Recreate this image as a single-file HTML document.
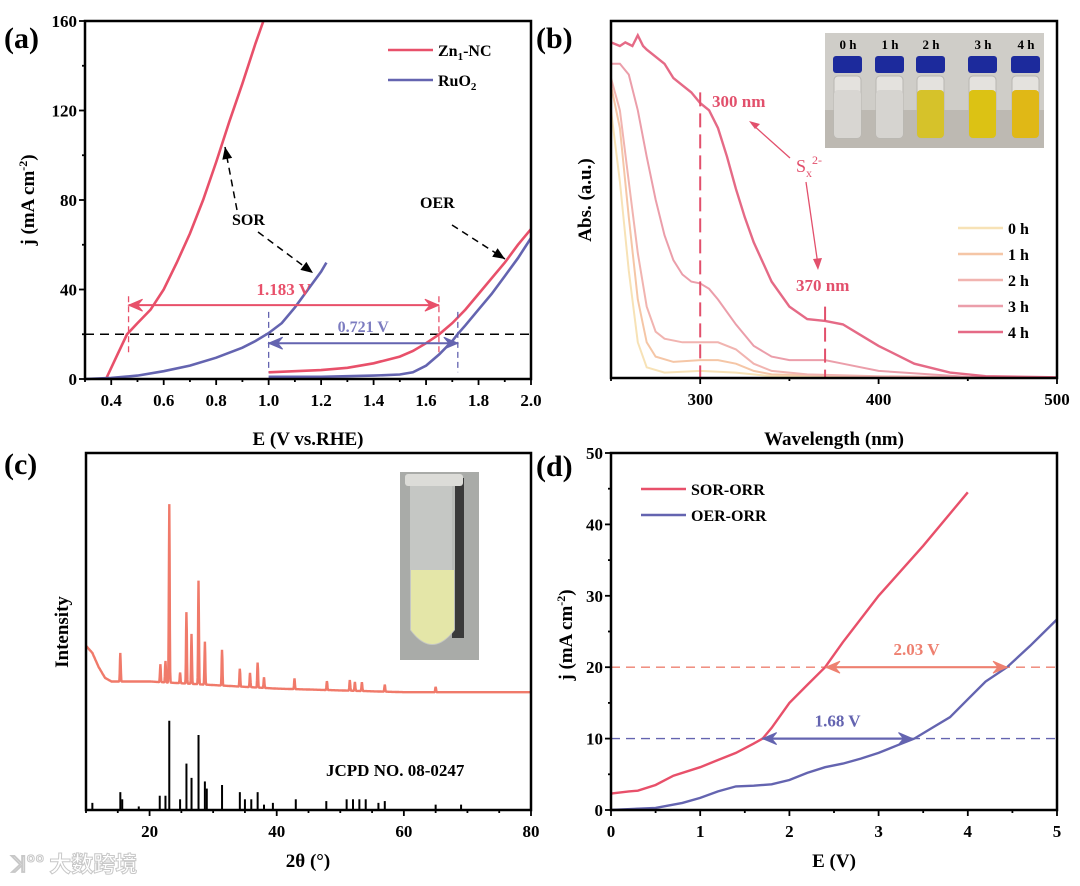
<!DOCTYPE html>
<html><head><meta charset="utf-8">
<style>
html,body{margin:0;padding:0;background:#fff;}
svg{display:block;font-family:"Liberation Serif","Noto Serif CJK SC",serif;font-weight:bold;}
</style></head>
<body>
<svg id="fig" width="1080" height="886" viewBox="0 0 1080 886" xmlns="http://www.w3.org/2000/svg"></svg>
<script>
// ---------- DATA ----------
// Panel (a)
const aSorZnX=[0.38,0.42,0.46,0.5,0.55,0.6,0.65,0.7,0.75,0.8,0.85,0.9,0.95,0.98];
const aSorZnY=[0,10,20,25,31,40,52,65,80,97,115,132,150,160];
const aSorRuX=[0.3,0.4,0.5,0.6,0.7,0.8,0.9,0.95,1.0,1.05,1.1,1.15,1.2,1.22];
const aSorRuY=[0,0.5,1.5,3.5,6,9.5,14,17,20.5,25,32,40,48,52];
const aOerZnX=[1.0,1.1,1.2,1.3,1.4,1.5,1.55,1.6,1.65,1.7,1.75,1.8,1.85,1.9,1.95,2.0];
const aOerZnY=[3,3.5,4,5,7,10,12.5,16,20,25,31,38,45,52,60,67];
const aOerRuX=[1.0,1.2,1.4,1.5,1.55,1.6,1.65,1.7,1.72,1.75,1.8,1.85,1.9,1.95,2.0];
const aOerRuY=[1,1,1.5,2,3,6,11,17,20,24,31,38,46,54,63];
const aXTicks=[0.4,0.6,0.8,1.0,1.2,1.4,1.6,1.8,2.0];
const aYTicks=[0,40,80,120,160];
const aRefJ=20;
const aGap1=[0.466,1.649]; const aGap1J=33; const aGap1Label="1.183 V";
const aGap2=[1.0,1.721]; const aGap2J=16; const aGap2Label="0.721 V";
// Panel (b)
const bLabels=["0 h","1 h","2 h","3 h","4 h"];
const bColors=["#f7e2b6","#f5c6a6","#f1b4b0","#eb9eaa","#e56a86"];
const b0X=[250,255,260,265,270,280,300,320,340,500];
const b0Y=[75,55,30,10,3,1.5,2,1.5,0.5,0];
const b1X=[250,255,260,265,270,275,285,300,310,320,330,340,400,500];
const b1Y=[82,70,45,22,10,6,4.5,5,5,4,2,1,0.3,0];
const b2X=[250,255,260,265,270,275,280,290,300,310,320,330,340,360,400,500];
const b2Y=[84,75,55,35,20,13,11,10,10,10,8,4,2,1,0.5,0];
const b3X=[250,255,260,265,270,275,280,285,290,295,300,305,310,320,330,340,350,370,380,400,450,500];
const b3Y=[88,88,85,75,62,50,40,33,29,27,26.5,25,22,15,9,6,5,5,4,2,0.3,0];
const b4X=[250,255,258,262,265,268,270,275,280,285,290,295,300,305,310,315,320,325,330,340,350,360,370,380,390,400,420,440,460,500];
const b4Y=[94,93,94,93,96,93,92,90,88,84,82,80,77,75,70,62,53,45,38,27,20,16.5,16,15,12,9,4,1.5,0.5,0.2];
const bXTicks=[300,400,500];
const bMark1=300, bMark2=370;
// Panel (c)
const cBaseX=[10,11,12,13,14,20,30,40,60,80];
const cBaseY=[46,44,40,37,36,36,35,34,33,33];
const cPeakPos=[15.4,21.7,22.5,23.1,24.8,25.8,26.6,27.7,28.7,31.4,34.2,35.8,37.0,38.0,42.8,47.9,51.5,52.3,53.4,57.0,65.0];
const cPeakH=[8,5,6,50,3,20,14,29,12,10,5,4,7,3,3,2.5,3,2.5,2.5,2,1.5];
const cStickPos=[11,15.4,15.7,18.3,21.6,22.5,23.1,24.8,25.8,26.6,27.7,28.7,29,31.4,34.2,35,36,37,38,39.4,43,47.8,51,52,53,54,56,57,65,69];
const cStickH=[2,5,3,1,4,4,25,3,13,9,21,8,6,7,5,3,3,5,1.5,2,3,2.5,3,3,3,3,2,2.5,1.5,1.5];
const cXTicks=[20,40,60,80];
// Panel (d)
const dSorX=[0,0.2,0.3,0.5,0.7,1.0,1.2,1.4,1.6,1.7,1.8,2.0,2.2,2.4,2.6,3.0,3.5,4.0];
const dSorY=[2.3,2.6,2.7,3.5,4.8,6,7,8,9.3,10,11.5,15,17.5,20,23.5,30,37,44.5];
const dOerX=[0,0.5,0.8,1.0,1.2,1.4,1.6,1.8,2.0,2.2,2.4,2.6,2.8,3.0,3.2,3.4,3.6,3.8,4.0,4.2,4.44,4.7,5.0];
const dOerY=[0,0.3,1,1.7,2.6,3.3,3.4,3.6,4.2,5.2,6,6.5,7.2,8,9,10,11.5,13,15.5,18,20,23,26.7];
const dXTicks=[0,1,2,3,4,5];
const dYTicks=[0,10,20,30,40,50];
const dGap1=[2.41,4.44]; const dGap1J=20; const dGap1Label="2.03 V";
const dGap2=[1.70,3.38]; const dGap2J=10; const dGap2Label="1.68 V";

// ---------- HELPERS ----------
const NS="http://www.w3.org/2000/svg";
const svg=document.getElementById('fig');
function el(tag,attrs,parent,text){const e=document.createElementNS(NS,tag);for(const k in attrs)e.setAttribute(k,attrs[k]);if(text!==undefined)e.textContent=text;(parent||svg).appendChild(e);return e;}
function scale(d0,d1,r0,r1){return v=>r0+(v-d0)*(r1-r0)/(d1-d0);}
function pathFrom(xs,ys,sx,sy){return xs.map((x,i)=>(i?'L':'M')+sx(x).toFixed(1)+','+sy(ys[i]).toFixed(1)).join(' ');}
function arrowHead(g,x,y,dir,color){ // dir: 1 points right, -1 left
  const p=`M${x},${y} L${x-dir*14},${y-6} L${x-dir*9},${y} L${x-dir*14},${y+6} Z`;
  const a=el('path',{d:p,fill:color,stroke:color,'stroke-width':1},g);
  
  
}
function frame(g,L,T,R,B){const r=el('rect',{x:L,y:T,width:R-L,height:B-T,fill:'none',stroke:'#000','stroke-width':2.5},g);}

// ================= PANEL A =================
(function(){
  const L=85,R=531,T=21,B=379;
  const sx=scale(0.3,2.0,L,R), sy=scale(0,160,B,T);
  const g=el('g',{});  
  // ref line
  const rl=el('line',{x1:L,x2:R,y1:sy(aRefJ),y2:sy(aRefJ),stroke:'#000','stroke-width':1.5,'stroke-dasharray':'9,6'},g);
  
  const red='#e8506a', blue='#6464b0';
  [[aSorZnX,aSorZnY,red,'zn1nc-sor-curve'],[aSorRuX,aSorRuY,blue,'ruo2-sor-curve'],[aOerZnX,aOerZnY,red,'zn1nc-oer-curve'],[aOerRuX,aOerRuY,blue,'ruo2-oer-curve']].forEach(s=>{
    const p=el('path',{d:pathFrom(s[0],s[1],sx,sy),fill:'none',stroke:s[2],'stroke-width':2.6},g);
    
  });
  // gap 1
  aGap1.forEach(v=>{const l=el('line',{x1:sx(v),x2:sx(v),y1:sy(aGap1J+4),y2:sy(aGap1J-22),stroke:red,'stroke-width':1.3,'stroke-dasharray':'6,4'},g);});
  const l1=el('line',{x1:sx(aGap1[0]),x2:sx(aGap1[1]),y1:sy(aGap1J),y2:sy(aGap1J),stroke:red,'stroke-width':2},g);
  arrowHead(g,sx(aGap1[0]),sy(aGap1J),-1,red);arrowHead(g,sx(aGap1[1]),sy(aGap1J),1,red);
  const t1=el('text',{x:(sx(aGap1[0])+sx(aGap1[1]))/2,y:sy(aGap1J)-10,'text-anchor':'middle','font-size':17,fill:red},g,aGap1Label);
  aGap2.forEach(v=>{const l=el('line',{x1:sx(v),x2:sx(v),y1:sy(30),y2:sy(3),stroke:blue,'stroke-width':1.3,'stroke-dasharray':'6,4'},g);});
  const l2=el('line',{x1:sx(aGap2[0]),x2:sx(aGap2[1]),y1:sy(aGap2J),y2:sy(aGap2J),stroke:blue,'stroke-width':2},g);
  arrowHead(g,sx(aGap2[0]),sy(aGap2J),-1,blue);arrowHead(g,sx(aGap2[1]),sy(aGap2J),1,blue);
  const t2=el('text',{x:(sx(aGap2[0])+sx(aGap2[1]))/2,y:sy(aGap2J)-11,'text-anchor':'middle','font-size':16,fill:'#7c7cc0'},g,aGap2Label);
  // annotations
  const s1=el('text',{x:232,y:225,'font-size':16},g,'SOR');
  const o1=el('text',{x:420,y:208,'font-size':16},g,'OER');
  [[237,210,225,147],[258,232,313,273],[452,225,505,259]].forEach(c=>{
    const l=el('line',{x1:c[0],y1:c[1],x2:c[2],y2:c[3],stroke:'#000','stroke-width':1.5,'stroke-dasharray':'7,5'},g);
    const ang=Math.atan2(c[3]-c[1],c[2]-c[0]);const hx=c[2],hy=c[3];
    const p=`M${hx},${hy} L${hx-12*Math.cos(ang)+5*Math.sin(ang)},${hy-12*Math.sin(ang)-5*Math.cos(ang)} L${hx-12*Math.cos(ang)-5*Math.sin(ang)},${hy-12*Math.sin(ang)+5*Math.cos(ang)} Z`;
    const h=el('path',{d:p,fill:'#000'},g);
  });
  frame(g,L,T,R,B);
  // ticks
  for(let v=0.3;v<=2.001;v+=0.1){const major=aXTicks.some(t=>Math.abs(t-v)<1e-6);const x=sx(v);const tk=el('line',{x1:x,x2:x,y1:B,y2:B+(major?6:3),stroke:'#000','stroke-width':1.8},g);}
  aXTicks.forEach(v=>{const t=el('text',{x:sx(v),y:B+27,'text-anchor':'middle','font-size':17},g,v.toFixed(1));});
  for(let v=0;v<=160;v+=20){const major=aYTicks.includes(v);const y=sy(v);const tk=el('line',{x1:L,x2:L-(major?6:3),y1:y,y2:y,stroke:'#000','stroke-width':1.8},g);}
  aYTicks.forEach(v=>{const t=el('text',{x:L-8,y:sy(v)+6,'text-anchor':'end','font-size':17},g,String(v));});
  const xt=el('text',{x:308,y:445,'text-anchor':'middle','font-size':19},g,'E (V vs.RHE)');
  const yt=el('text',{transform:'translate(34,200) rotate(-90)','text-anchor':'middle','font-size':19},g);
  el('tspan',{},yt,'j (mA cm');el('tspan',{dy:-7,'font-size':12},yt,'-2');el('tspan',{dy:7},yt,')');
  // legend
  const lg=el('g',{},g);
  const e1=el('line',{x1:388,x2:433,y1:50,y2:50,stroke:red,'stroke-width':2.6},lg);
  const lt1=el('text',{x:438,y:56,'font-size':16},lg);
  el('tspan',{},lt1,'Zn');el('tspan',{dy:4,'font-size':11},lt1,'1');el('tspan',{dy:-4},lt1,'-NC');
  const e2=el('line',{x1:388,x2:433,y1:80,y2:80,stroke:blue,'stroke-width':2.6},lg);
  const lt2=el('text',{x:438,y:86,'font-size':16},lg);
  el('tspan',{},lt2,'RuO');el('tspan',{dy:4,'font-size':11},lt2,'2');
  const pl=el('text',{x:4,y:48,'font-size':30},g,'(a)');
})();

// ================= PANEL B =================
(function(){
  const L=611,R=1057,T=21,B=378;
  const sx=scale(250,500,L,R), sy=scale(0,100,B,T);
  const g=el('g',{});  
  const xs=[b0X,b1X,b2X,b3X,b4X], ys=[b0Y,b1Y,b2Y,b3Y,b4Y];
  for(let i=0;i<5;i++){const p=el('path',{d:pathFrom(xs[i],ys[i],sx,sy),fill:'none',stroke:bColors[i],'stroke-width':i==4?2.4:2},g);}
  const red='#e2506c';
  const m1=el('line',{x1:sx(bMark1),x2:sx(bMark1),y1:sy(80),y2:B,stroke:red,'stroke-width':2,'stroke-dasharray':'14,7'},g);
  const m2=el('line',{x1:sx(bMark2),x2:sx(bMark2),y1:sy(20),y2:B,stroke:red,'stroke-width':2,'stroke-dasharray':'14,7'},g);
  const t3=el('text',{x:712,y:107,'font-size':17,fill:red},g,'300 nm');
  const t4=el('text',{x:796,y:291,'font-size':17,fill:red},g,'370 nm');
  const sxl=el('text',{x:796,y:172,'font-size':18,fill:red,'font-weight':'normal'},g);
  el('tspan',{},sxl,'S');el('tspan',{dy:5,'font-size':12},sxl,'x');el('tspan',{dy:-13,'font-size':12},sxl,'2-');
  const a1=el('line',{x1:790,y1:158,x2:752,y2:124,stroke:red,'stroke-width':1.3},g);
  const h1=el('path',{d:'M749,121 L760,124 L755,129 Z',fill:red},g);
  const a2=el('line',{x1:806,y1:182,x2:818,y2:265,stroke:red,'stroke-width':1.3},g);
  const h2=el('path',{d:'M818,270 L813,259 L822,258 Z',fill:red},g);
  // inset photo
  const ph=el('g',{},g);
  el('rect',{x:825,y:33,width:219,height:115,fill:'#cfcdc8'},ph);
  el('rect',{x:825,y:110,width:219,height:38,fill:'#bdb9b2'},ph);
  const vx=[845,887,928,980,1023], liq=['#d8d6d2','#d6d4d0','#d6c22a','#dcc214','#e0b816'];
  vx.forEach((cx,i)=>{
    const lb=el('text',{x:cx+3,y:49,'text-anchor':'middle','font-size':13},ph,bLabels[i]);
    const cap=el('rect',{x:cx-12,y:56,width:29,height:17,rx:3,fill:'#1c2a9c'},ph);
    const body=el('rect',{x:cx-11,y:76,width:27,height:62,rx:4,fill:'#e4e2de',stroke:'#b8b6b2'},ph);
    el('rect',{x:cx-11,y:90,width:27,height:48,rx:4,fill:liq[i]},ph);
  });
  frame(g,L,T,R,B);
  for(let v=250;v<=500;v+=50){const major=bXTicks.includes(v);const x=sx(v);const tk=el('line',{x1:x,x2:x,y1:B,y2:B+(major?6:3),stroke:'#000','stroke-width':1.8},g);}
  bXTicks.forEach(v=>{const t=el('text',{x:sx(v),y:B+27,'text-anchor':'middle','font-size':17},g,String(v));});
  const xt=el('text',{x:834,y:445,'text-anchor':'middle','font-size':19},g,'Wavelength (nm)');
  const yt=el('text',{transform:'translate(591,200) rotate(-90)','text-anchor':'middle','font-size':19},g,'Abs. (a.u.)');
  const lg=el('g',{},g);
  bLabels.forEach((lab,i)=>{const y=228+i*26;
    const sw=el('line',{x1:958,x2:1003,y1:y,y2:y,stroke:bColors[i],'stroke-width':2.4},lg);
    const t=el('text',{x:1008,y:y+6,'font-size':16},lg,lab);});
  const pl=el('text',{x:536,y:48,'font-size':30},g,'(b)');
})();

// ================= PANEL C =================
(function(){
  const L=86,R=531,T=453,B=810;
  const sx=scale(10,80,L,R), sy=scale(0,100,B,T);
  const g=el('g',{});  
  function base(x){for(let i=1;i<cBaseX.length;i++){if(x<=cBaseX[i]){const t=(x-cBaseX[i-1])/(cBaseX[i]-cBaseX[i-1]);return cBaseY[i-1]+t*(cBaseY[i]-cBaseY[i-1]);}}return cBaseY[cBaseY.length-1];}
  let d='';
  for(let x=10;x<=80.001;x+=0.05){let y=base(x);cPeakPos.forEach((p,i)=>{y+=cPeakH[i]*Math.exp(-Math.pow((x-p)/0.09,2));});d+=(d?'L':'M')+sx(x).toFixed(1)+','+sy(y).toFixed(1)+' ';}
  const p=el('path',{d:d,fill:'none',stroke:'#f07a6a','stroke-width':2.4},g);
  cStickPos.forEach((pos,i)=>{const s=el('line',{x1:sx(pos),x2:sx(pos),y1:sy(0),y2:sy(cStickH[i]),stroke:'#000','stroke-width':2},g);});
  const jc=el('text',{x:326,y:776,'font-size':17},g,'JCPD NO. 08-0247');
  const ph=el('g',{},g);
  el('rect',{x:400,y:472,width:79,height:188,fill:'#a9aba8'},ph);
  el('rect',{x:452,y:478,width:12,height:160,fill:'#3a3a3a'},ph);
  el('rect',{x:405,y:474,width:58,height:12,rx:3,fill:'#dcdcd8'},ph);
  el('path',{d:'M410,486 L455,486 L455,630 Q432,660 410,630 Z',fill:'#c8cac6',opacity:0.9},ph);
  el('path',{d:'M411,570 L454,570 L454,630 Q432,658 411,630 Z',fill:'#e4e6a8'},ph);
  frame(g,L,T,R,B);
  for(let v=10;v<=80;v+=5){const major=cXTicks.includes(v);const x=sx(v);const tk=el('line',{x1:x,x2:x,y1:B,y2:B+(major?6:3),stroke:'#000','stroke-width':1.8},g);}
  cXTicks.forEach(v=>{const t=el('text',{x:sx(v),y:B+27,'text-anchor':'middle','font-size':17},g,String(v));});
  const xt=el('text',{x:308,y:867,'text-anchor':'middle','font-size':19},g,'2θ (°)');
  const yt=el('text',{transform:'translate(68,632) rotate(-90)','text-anchor':'middle','font-size':19},g,'Intensity');
  const pl=el('text',{x:4,y:474,'font-size':30},g,'(c)');
  const wm=el('text',{x:12,y:872,'font-size':22,fill:'#fff',stroke:'#c8c8c8','stroke-width':1,'font-family':'"Noto Sans CJK SC",sans-serif'},g,'ꓘ°° 大数跨境');
})();

// ================= PANEL D =================
(function(){
  const L=611,R=1057,T=453,B=810;
  const sx=scale(0,5,L,R), sy=scale(0,50,B,T);
  const g=el('g',{});  
  const red='#e8506a', blue='#6464b0', salmon='#ee8070';
  const r1=el('line',{x1:L,x2:R,y1:sy(dGap1J),y2:sy(dGap1J),stroke:salmon,'stroke-width':1.4,'stroke-dasharray':'9,6'},g);
  const r2=el('line',{x1:L,x2:R,y1:sy(dGap2J),y2:sy(dGap2J),stroke:blue,'stroke-width':1.4,'stroke-dasharray':'9,6'},g);
  const p1=el('path',{d:pathFrom(dSorX,dSorY,sx,sy),fill:'none',stroke:red,'stroke-width':2.4},g);
  const p2=el('path',{d:pathFrom(dOerX,dOerY,sx,sy),fill:'none',stroke:blue,'stroke-width':2.4},g);
  const g1=el('line',{x1:sx(dGap1[0]),x2:sx(dGap1[1]),y1:sy(dGap1J),y2:sy(dGap1J),stroke:salmon,'stroke-width':2.2},g);
  arrowHead(g,sx(dGap1[0]),sy(dGap1J),-1,salmon);arrowHead(g,sx(dGap1[1]),sy(dGap1J),1,salmon);
  const t1=el('text',{x:(sx(dGap1[0])+sx(dGap1[1]))/2,y:sy(dGap1J)-12,'text-anchor':'middle','font-size':17,fill:salmon},g,dGap1Label);
  const g2=el('line',{x1:sx(dGap2[0]),x2:sx(dGap2[1]),y1:sy(dGap2J),y2:sy(dGap2J),stroke:blue,'stroke-width':2.2},g);
  arrowHead(g,sx(dGap2[0]),sy(dGap2J),-1,blue);arrowHead(g,sx(dGap2[1]),sy(dGap2J),1,blue);
  const t2=el('text',{x:(sx(dGap2[0])+sx(dGap2[1]))/2,y:sy(dGap2J)-12,'text-anchor':'middle','font-size':17,fill:blue},g,dGap2Label);
  frame(g,L,T,R,B);
  for(let v=0;v<=5.001;v+=0.5){const major=Math.abs(v-Math.round(v))<1e-6;const x=sx(v);const tk=el('line',{x1:x,x2:x,y1:B,y2:B+(major?6:3),stroke:'#000','stroke-width':1.8},g);}
  dXTicks.forEach(v=>{const t=el('text',{x:sx(v),y:B+27,'text-anchor':'middle','font-size':17},g,String(v));});
  for(let v=0;v<=50;v+=5){const major=dYTicks.includes(v);const y=sy(v);const tk=el('line',{x1:L,x2:L-(major?6:3),y1:y,y2:y,stroke:'#000','stroke-width':1.8},g);}
  dYTicks.forEach(v=>{const t=el('text',{x:L-8,y:sy(v)+6,'text-anchor':'end','font-size':17},g,String(v));});
  const xt=el('text',{x:834,y:867,'text-anchor':'middle','font-size':19},g,'E (V)');
  const yt=el('text',{transform:'translate(572,635) rotate(-90)','text-anchor':'middle','font-size':19},g);
  el('tspan',{},yt,'j (mA cm');el('tspan',{dy:-7,'font-size':12},yt,'-2');el('tspan',{dy:7},yt,')');
  const lg=el('g',{},g);
  const s1=el('line',{x1:641,x2:686,y1:489,y2:489,stroke:red,'stroke-width':2.4},lg);
  const l1=el('text',{x:691,y:495,'font-size':16},lg,'SOR-ORR');
  const s2=el('line',{x1:641,x2:686,y1:515,y2:515,stroke:blue,'stroke-width':2.4},lg);
  const l2=el('text',{x:691,y:521,'font-size':16},lg,'OER-ORR');
  const pl=el('text',{x:536,y:476,'font-size':30},g,'(d)');
})();
</script>
</body></html>
